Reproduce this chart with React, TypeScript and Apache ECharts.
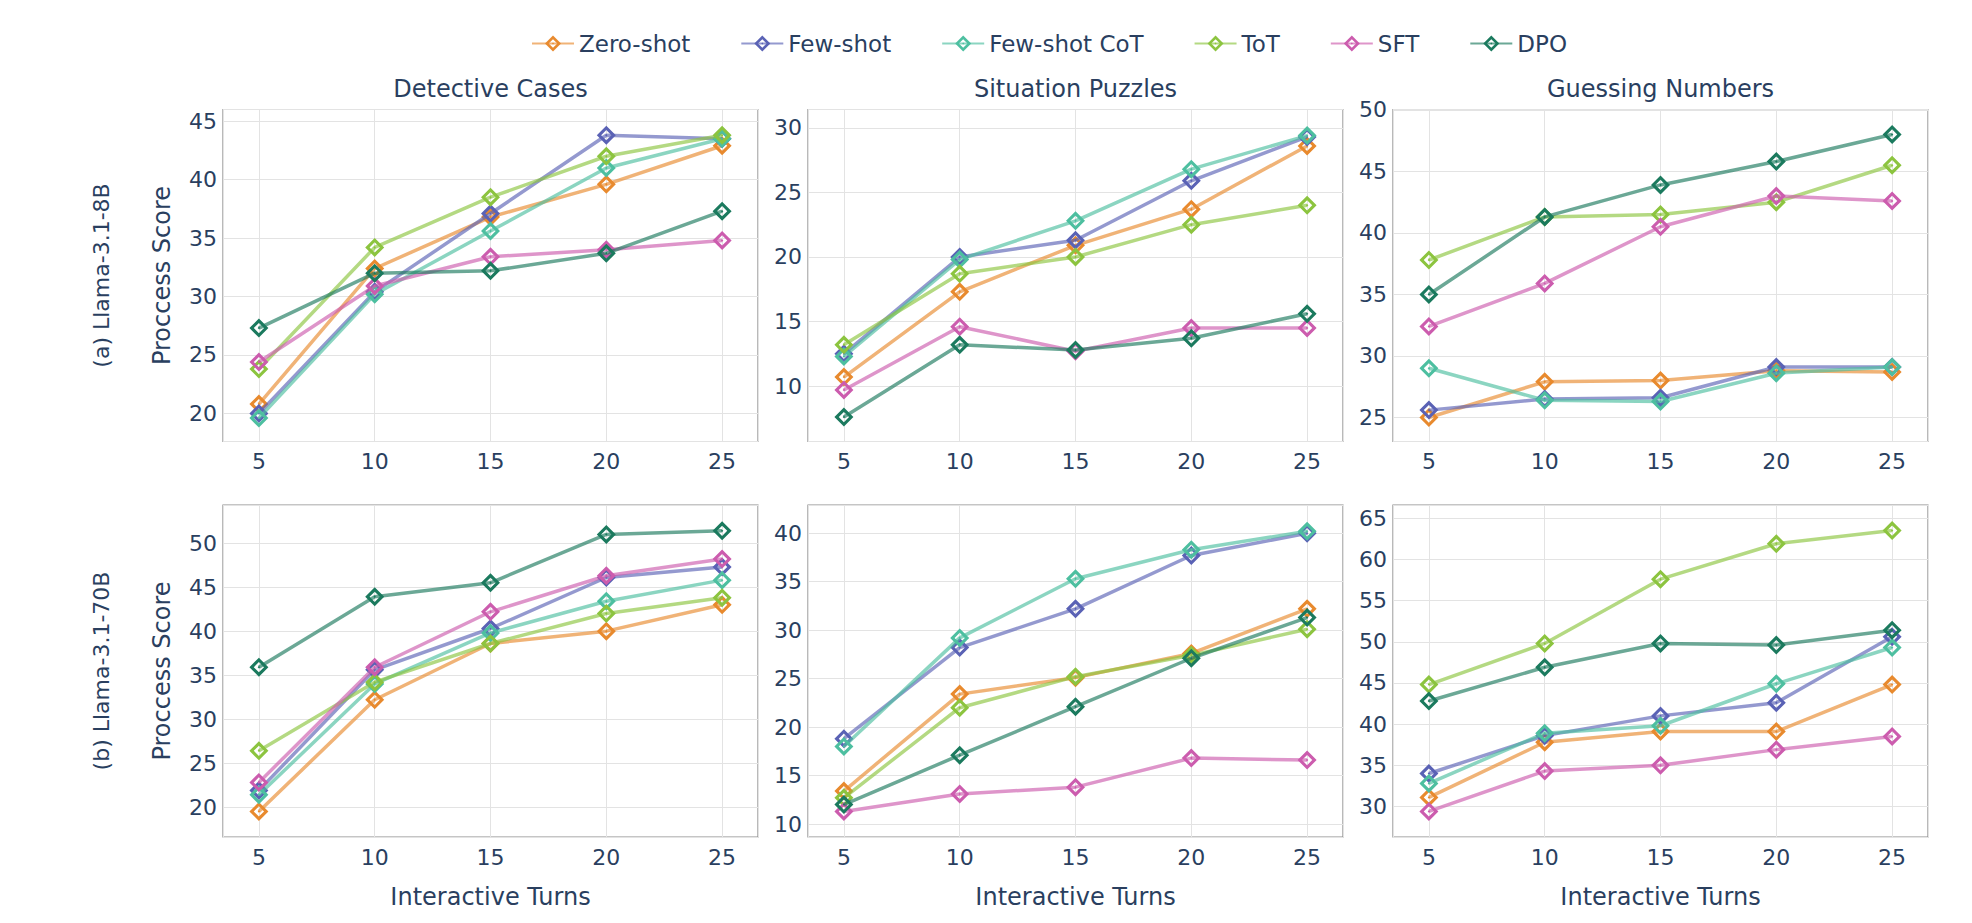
import React, { useEffect, useRef } from "react";
import * as echarts from "echarts";

const TURNS = [5, 10, 15, 20, 25];
const METHODS = ["Zero-shot", "Few-shot", "Few-shot CoT", "ToT", "SFT", "DPO"];
const COLORS = ["#E88A2E", "#5A62B5", "#4DBFA0", "#8CC43F", "#CC5CAE", "#1B7A5E"];

// rows follow METHODS order
const detective8B = [
  [20.8, 32.4, 36.8, 39.6, 42.9],
  [20.0, 30.4, 37.1, 43.8, 43.5],
  [19.6, 30.2, 35.6, 41.0, 43.5],
  [23.8, 34.2, 38.5, 42.0, 43.8],
  [24.4, 30.9, 33.4, 34.0, 34.8],
  [27.3, 32.0, 32.2, 33.7, 37.3],
];
const situation8B = [
  [10.7, 17.3, 20.9, 23.7, 28.6],
  [12.5, 20.0, 21.3, 25.9, 29.3],
  [12.3, 19.8, 22.8, 26.8, 29.4],
  [13.2, 18.7, 20.0, 22.5, 24.0],
  [9.7, 14.6, 12.7, 14.5, 14.5],
  [7.6, 13.2, 12.8, 13.7, 15.6],
];
const guessing8B = [
  [25.0, 27.9, 28.0, 28.8, 28.7],
  [25.6, 26.5, 26.6, 29.1, 29.1],
  [29.0, 26.4, 26.3, 28.6, 29.1],
  [37.8, 41.3, 41.5, 42.5, 45.5],
  [32.4, 35.9, 40.5, 43.0, 42.6],
  [35.0, 41.3, 43.9, 45.8, 48.0],
];
const detective70B = [
  [19.5, 32.2, 38.6, 40.0, 43.0],
  [21.9, 35.6, 40.3, 46.1, 47.3],
  [21.4, 34.0, 39.8, 43.4, 45.8],
  [26.4, 34.2, 38.6, 42.0, 43.8],
  [22.8, 35.9, 42.2, 46.3, 48.2],
  [35.9, 43.9, 45.5, 51.0, 51.4],
];
const situation70B = [
  [13.4, 23.4, 25.1, 27.6, 32.2],
  [18.8, 28.2, 32.2, 37.7, 40.0],
  [18.0, 29.2, 35.3, 38.3, 40.2],
  [12.7, 22.0, 25.2, 27.4, 30.1],
  [11.3, 13.1, 13.8, 16.8, 16.6],
  [12.0, 17.1, 22.1, 27.1, 31.3],
];
const guessing70B = [
  [31.1, 37.8, 39.1, 39.1, 44.8],
  [34.0, 38.6, 41.0, 42.6, 50.6],
  [32.8, 38.9, 39.8, 44.9, 49.3],
  [44.8, 49.8, 57.6, 61.9, 63.5],
  [29.4, 34.3, 35.0, 36.9, 38.5],
  [42.8, 46.9, 49.8, 49.6, 51.4],
];

const PANEL_DATA = [detective8B, situation8B, guessing8B, detective70B, situation70B, guessing70B];
const TASK_TITLES = ["Detective Cases", "Situation Puzzles", "Guessing Numbers"];
const ROW_LABELS = ["(a) Llama-3.1-8B", "(b) Llama-3.1-70B"];
const Y_TITLE = "Proccess Score";
const X_TITLE = "Interactive Turns";
const Y_RANGES = [
  [17.6, 46.0],
  [5.71, 31.42],
  [23.05, 50.03],
  [16.6, 54.34],
  [8.66, 42.91],
  [26.29, 66.61],
];
const X_RANGE = [3.45, 26.55];

const FONT = "DejaVu Sans";
const TXT = "#2a3f5f";
const DIAMOND =
  "path://M10 0 L20 10 L10 20 L0 10 Z M10 4.6 L4.6 10 L10 15.4 L15.4 10 Z M10 8.7 L11.3 10 L10 11.3 L8.7 10 Z";

const COL_LEFT = [223, 808, 1393];
const COL_W = 535;
const ROW_TOP = [109.5, 505];
const ROW_H = 332;

export default function App() {
  const ref = useRef<HTMLDivElement>(null);
  useEffect(() => {
    if (!ref.current) return;
    const chart = echarts.init(ref.current, null, { renderer: "svg" });
    const grids: any[] = [];
    const xAxes: any[] = [];
    const yAxes: any[] = [];
    const series: any[] = [];
    PANEL_DATA.forEach((pd, i) => {
      const row = Math.floor(i / 3);
      const col = i % 3;
      grids.push({
        left: COL_LEFT[col],
        top: ROW_TOP[row],
        width: COL_W,
        height: ROW_H,
        show: true,
        borderColor: "#8c8c8c",
        borderWidth: 1.2,
        backgroundColor: "transparent",
        containLabel: false,
      });
      xAxes.push({
        type: "value",
        gridIndex: i,
        min: X_RANGE[0],
        max: X_RANGE[1],
        splitNumber: 5,
        axisLine: { show: false },
        axisTick: { show: false },
        axisLabel: {
          showMinLabel: false,
          showMaxLabel: false,
          fontSize: 22,
          color: TXT,
          fontFamily: FONT,
          margin: 9,
        },
        splitLine: { show: true, lineStyle: { color: "#e3e3e3", width: 1 } },
      });
      const yr = Y_RANGES[i];
      yAxes.push({
        type: "value",
        gridIndex: i,
        min: yr[0],
        max: yr[1],
        splitNumber: Math.round((yr[1] - yr[0]) / 5),
        axisLine: { show: false },
        axisTick: { show: false },
        axisLabel: {
          showMinLabel: false,
          showMaxLabel: false,
          fontSize: 22,
          color: TXT,
          fontFamily: FONT,
          margin: 6,
        },
        splitLine: { show: true, lineStyle: { color: "#e3e3e3", width: 1 } },
      });
      pd.forEach((vals, m) => {
        series.push({
          type: "line",
          name: METHODS[m],
          xAxisIndex: i,
          yAxisIndex: i,
          data: TURNS.map((t, j) => [t, vals[j]]),
          symbol: DIAMOND,
          symbolSize: 19,
          itemStyle: { color: COLORS[m] },
          lineStyle: { color: COLORS[m], width: 3.5, opacity: 0.65 },
          emphasis: { disabled: true },
          z: 2 + m,
        });
      });
    });

    const graphic: any[] = [];
    TASK_TITLES.forEach((t, c) => {
      graphic.push({
        type: "text",
        x: COL_LEFT[c] + COL_W / 2,
        y: 89,
        style: { text: t, fontSize: 24, fill: TXT, fontFamily: FONT, textAlign: "center", textVerticalAlign: "middle" },
      });
      graphic.push({
        type: "text",
        x: COL_LEFT[c] + COL_W / 2,
        y: 897,
        style: { text: X_TITLE, fontSize: 24, fill: TXT, fontFamily: FONT, textAlign: "center", textVerticalAlign: "middle" },
      });
    });
    ROW_LABELS.forEach((t, r) => {
      const cy = ROW_TOP[r] + ROW_H / 2;
      graphic.push({
        type: "text",
        x: 101,
        y: cy,
        rotation: Math.PI / 2,
        style: { text: t, fontSize: 22, fill: TXT, fontFamily: FONT, textAlign: "center", textVerticalAlign: "middle" },
      });
      graphic.push({
        type: "text",
        x: 162,
        y: cy,
        rotation: Math.PI / 2,
        style: { text: Y_TITLE, fontSize: 24, fill: TXT, fontFamily: FONT, textAlign: "center", textVerticalAlign: "middle" },
      });
    });

    chart.setOption({
      animation: false,
      backgroundColor: "#ffffff",
      textStyle: { fontFamily: FONT },
      legend: {
        data: METHODS,
        left: 526,
        top: 27,
        itemWidth: 42,
        itemHeight: 20,
        itemGap: 50,
        selectedMode: false,
        textStyle: { fontSize: 23, color: TXT, fontFamily: FONT },
      },
      grid: grids,
      xAxis: xAxes,
      yAxis: yAxes,
      series,
      graphic,
    });
    return () => chart.dispose();
  }, []);
  return (
    <div
      ref={ref}
      style={{ position: "absolute", left: 0, top: 0, width: 1972, height: 923 }}
    />
  );
}
